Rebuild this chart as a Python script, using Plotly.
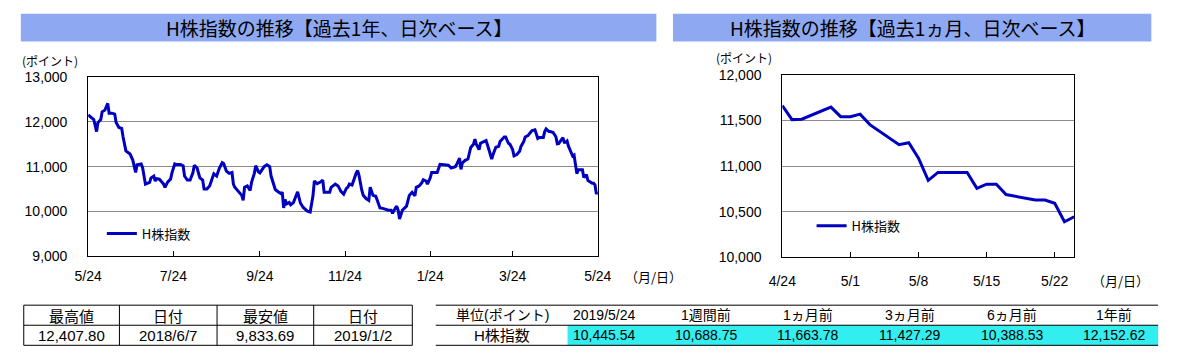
import plotly.graph_objects as go

# ---------------- data ----------------
year_dates = [
    "2018-05-24", "2018-05-27", "2018-05-28", "2018-05-30", "2018-05-31", "2018-06-02", "2018-06-03",
    "2018-06-05", "2018-06-07", "2018-06-08", "2018-06-10", "2018-06-12", "2018-06-13", "2018-06-15",
    "2018-06-17", "2018-06-18", "2018-06-19", "2018-06-20", "2018-06-23", "2018-06-25", "2018-06-26",
    "2018-06-27", "2018-06-28", "2018-07-01", "2018-07-02", "2018-07-03", "2018-07-04", "2018-07-07",
    "2018-07-08", "2018-07-10", "2018-07-11", "2018-07-12", "2018-07-14", "2018-07-17", "2018-07-18",
    "2018-07-20", "2018-07-22", "2018-07-23", "2018-07-25", "2018-07-26", "2018-07-29", "2018-07-31",
    "2018-08-01", "2018-08-03", "2018-08-05", "2018-08-07", "2018-08-08", "2018-08-10", "2018-08-12",
    "2018-08-14", "2018-08-15", "2018-08-17", "2018-08-19", "2018-08-21", "2018-08-22", "2018-08-24",
    "2018-08-26", "2018-08-28", "2018-08-29", "2018-08-31", "2018-09-02", "2018-09-04", "2018-09-05",
    "2018-09-06", "2018-09-09", "2018-09-11", "2018-09-12", "2018-09-13", "2018-09-15", "2018-09-16",
    "2018-09-17", "2018-09-18", "2018-09-20", "2018-09-21", "2018-09-23", "2018-09-24", "2018-09-26",
    "2018-09-27", "2018-09-29", "2018-10-01", "2018-10-02", "2018-10-04", "2018-10-05", "2018-10-07",
    "2018-10-09", "2018-10-10", "2018-10-11", "2018-10-12", "2018-10-13", "2018-10-15", "2018-10-16",
    "2018-10-18", "2018-10-19", "2018-10-21", "2018-10-23", "2018-10-25", "2018-10-28", "2018-10-30",
    "2018-11-01", "2018-11-02", "2018-11-04", "2018-11-06", "2018-11-08", "2018-11-09", "2018-11-11",
    "2018-11-13", "2018-11-14", "2018-11-15", "2018-11-17", "2018-11-19", "2018-11-20", "2018-11-21",
    "2018-11-23", "2018-11-25", "2018-11-26", "2018-11-27", "2018-11-29", "2018-11-30", "2018-12-02",
    "2018-12-03", "2018-12-04", "2018-12-06", "2018-12-07", "2018-12-09", "2018-12-11", "2018-12-12",
    "2018-12-14", "2018-12-16", "2018-12-17", "2018-12-19", "2018-12-21", "2018-12-23", "2018-12-25",
    "2018-12-27", "2018-12-28", "2018-12-30", "2018-12-31", "2019-01-01", "2019-01-02", "2019-01-04",
    "2019-01-06", "2019-01-07", "2019-01-09", "2019-01-11", "2019-01-13", "2019-01-14", "2019-01-16",
    "2019-01-18", "2019-01-19", "2019-01-21", "2019-01-22", "2019-01-24", "2019-01-25", "2019-01-28",
    "2019-01-29", "2019-01-31", "2019-02-03", "2019-02-06", "2019-02-08", "2019-02-11", "2019-02-12",
    "2019-02-14", "2019-02-15", "2019-02-16", "2019-02-18", "2019-02-20", "2019-02-22", "2019-02-24",
    "2019-02-25", "2019-02-26", "2019-02-28", "2019-03-01", "2019-03-03", "2019-03-05", "2019-03-07",
    "2019-03-09", "2019-03-10", "2019-03-12", "2019-03-14", "2019-03-15", "2019-03-18", "2019-03-19",
    "2019-03-21", "2019-03-22", "2019-03-24", "2019-03-25", "2019-03-27", "2019-03-29", "2019-03-30",
    "2019-04-01", "2019-04-02", "2019-04-04", "2019-04-06", "2019-04-07", "2019-04-09", "2019-04-11",
    "2019-04-12", "2019-04-15", "2019-04-16", "2019-04-17", "2019-04-19", "2019-04-20", "2019-04-22",
    "2019-04-24", "2019-04-25", "2019-04-26", "2019-04-29", "2019-04-30", "2019-05-01", "2019-05-02",
    "2019-05-03", "2019-05-06", "2019-05-07", "2019-05-08", "2019-05-09", "2019-05-10", "2019-05-13",
    "2019-05-14", "2019-05-15", "2019-05-16", "2019-05-17", "2019-05-20", "2019-05-21", "2019-05-22",
    "2019-05-23", "2019-05-24",
]
year_values = [
    12152.62, 12080, 12050, 11780, 11980, 12050, 12220,
    12260, 12407.80, 12190, 12190, 12170, 11980, 11870,
    11850, 11660, 11450, 11350, 11280, 11140, 11000,
    10870, 11040, 11060, 10970, 10750, 10610, 10650,
    10750, 10790, 10680, 10730, 10720, 10610, 10540,
    10660, 10720, 10860, 11060, 11050, 11050, 11020,
    10790, 10700, 10700, 10860, 11030, 10970, 10750,
    10700, 10500, 10500, 10570, 10750, 10840, 10790,
    10970, 11090, 11070, 10900, 10850, 10870, 10610,
    10540, 10430, 10360, 10250, 10540, 10570, 10500,
    10470, 10650, 10850, 11020, 10880, 10860, 10970,
    11000, 11040, 11000, 10790, 10570, 10490, 10440,
    10400, 10430, 10080, 10270, 10170, 10200, 10150,
    10200, 10280, 10440, 10190, 10090, 10010, 9990,
    10350, 10680, 10620, 10650, 10700, 10430, 10430,
    10430, 10540, 10570, 10610, 10570, 10500, 10450,
    10388.53, 10520, 10540, 10610, 10590, 10700, 10860,
    10910, 10800, 10470, 10360, 10290, 10250, 10540,
    10360, 10340, 10250, 10080, 10070, 10050, 10030,
    10030, 9960, 10080, 10120, 10030, 9833.69, 10030,
    10100, 10120, 10360, 10430, 10350, 10540, 10570,
    10640, 10710, 10680, 10610, 10750, 10870, 10870,
    10870, 11050, 11040, 11030, 10970, 11000, 11050,
    11190, 10940, 11080, 11140, 11170, 11427.29, 11500,
    11610, 11500, 11380, 11520, 11550, 11580, 11380,
    11170, 11270, 11430, 11450, 11560, 11660, 11660,
    11520, 11500, 11380, 11240, 11270, 11340, 11450,
    11560, 11660, 11690, 11770, 11800, 11820, 11630,
    11650, 11650, 11780, 11840, 11780, 11780, 11760,
    11663.78, 11510, 11514, 11647, 11542, 11542, 11570,
    11455, 11235, 11256, 11088, 10844, 10931, 10931,
    10757, 10802, 10802, 10688.75, 10628, 10628, 10593,
    10390, 10445.54,
]

month_dates = [
    "2019-04-24", "2019-04-25", "2019-04-26", "2019-04-29", "2019-04-30", "2019-05-01", "2019-05-02",
    "2019-05-03", "2019-05-06", "2019-05-07", "2019-05-08", "2019-05-09", "2019-05-10", "2019-05-13",
    "2019-05-14", "2019-05-15", "2019-05-16", "2019-05-17", "2019-05-20", "2019-05-21", "2019-05-22",
    "2019-05-23", "2019-05-24",
]
month_values = [
    11663.78, 11510, 11514, 11647, 11542, 11542, 11570,
    11455, 11235, 11256, 11088, 10844, 10931, 10931,
    10757, 10802, 10802, 10688.75, 10628, 10628, 10593,
    10390, 10445.54,
]

year_tick_dates = ["2018-05-24", "2018-07-24", "2018-09-24", "2018-11-24", "2019-01-24", "2019-03-24", "2019-05-24"]
year_tick_labels = ["5/24", "7/24", "9/24", "11/24", "1/24", "3/24", "5/24"]
month_tick_dates = ["2019-04-24", "2019-05-01", "2019-05-08", "2019-05-15", "2019-05-22"]
month_tick_labels = ["4/24", "5/1", "5/8", "5/15", "5/22"]

series_name = "H株指数"
left_title = "H株指数の推移【過去1年、日次ベース】"
right_title = "H株指数の推移【過去1ヵ月、日次ベース】"
unit_label = "(ポイント)"
date_unit_label = "（月/日）"

extreme_headers = ["最高値", "日付", "最安値", "日付"]
extreme_values = ["12,407.80", "2018/6/7", "9,833.69", "2019/1/2"]
change_headers = ["単位(ポイント)", "2019/5/24", "1週間前", "1ヵ月前", "3ヵ月前", "6ヵ月前", "1年前"]
change_values = ["H株指数", "10,445.54", "10,688.75", "11,663.78", "11,427.29", "10,388.53", "12,152.62"]

# ---------------- style / layout ----------------
W, H = 1178, 360
LINE_COLOR = "#0000C0"
BAR_COLOR = "#8EA9F2"
CYAN = "#33EEEE"
GRID = "#8C8C8C"
FONT = "Liberation Sans, Noto Sans CJK JP, sans-serif"
JFONT = "Noto Sans CJK JP, sans-serif"


def px(x):
    return x / W


def py(y):
    return 1 - y / H


fig = go.Figure()
fig.add_trace(go.Scatter(x=year_dates, y=year_values, mode="lines", name=series_name,
                         line=dict(color=LINE_COLOR, width=3), xaxis="x", yaxis="y",
                         legend="legend", legendgroup="year", showlegend=True))
fig.add_trace(go.Scatter(x=month_dates, y=month_values, mode="lines", name=series_name,
                         line=dict(color=LINE_COLOR, width=3), xaxis="x2", yaxis="y2",
                         legend="legend2", legendgroup="month", showlegend=True))

axis_common = dict(showline=True, mirror=True, linecolor="black", linewidth=1, zeroline=False)

fig.update_layout(
    width=W, height=H,
    showlegend=True,
    margin=dict(l=0, r=0, t=0, b=0),
    paper_bgcolor="white", plot_bgcolor="white",
    font=dict(family=FONT, size=14, color="black"),
    xaxis=dict(domain=[px(76), px(598)], type="date", range=["2018-05-24", "2019-05-24"],
               tickvals=year_tick_dates, ticktext=year_tick_labels, ticks="inside", ticklen=5,
               tickcolor="black", showgrid=False, ticklabelstandoff=7, anchor="y", **axis_common),
    yaxis=dict(domain=[py(260), py(72)], range=[9000, 13000], dtick=1000, tickformat=",",
               showgrid=True, gridcolor=GRID, gridwidth=1, ticks="", ticklabelstandoff=17,
               anchor="x", **axis_common),
    xaxis2=dict(domain=[px(787), px(1086)], type="date", range=["2019-04-24", "2019-05-24"],
                tickvals=month_tick_dates, ticktext=month_tick_labels, ticks="inside", ticklen=5,
                tickcolor="black", showgrid=False, ticklabelstandoff=11, anchor="y2", **axis_common),
    yaxis2=dict(domain=[py(261), py(70)], range=[10000, 12000], dtick=500, tickformat=",",
                showgrid=True, gridcolor=GRID, gridwidth=1, ticks="", ticklabelstandoff=17,
                anchor="x2", **axis_common),
    legend=dict(x=px(90), y=py(236), xanchor="left", yanchor="middle", bgcolor="rgba(0,0,0,0)",
                font=dict(family=JFONT, size=13), itemwidth=30),
    legend2=dict(x=px(817), y=py(228), xanchor="left", yanchor="middle", bgcolor="rgba(0,0,0,0)",
                 font=dict(family=JFONT, size=13), itemwidth=30),
)

shapes = []
annotations = []

# title bars
for (x0, x1, text) in [(7, 658, left_title), (675, 1165, right_title)]:
    shapes.append(dict(type="rect", xref="paper", yref="paper", x0=px(x0), x1=px(x1),
                       y0=py(35), y1=py(6), fillcolor=BAR_COLOR, line=dict(width=0), layer="below"))
    annotations.append(dict(x=px((x0 + x1) / 2), y=py(20.5), xref="paper", yref="paper", text=text,
                            showarrow=False, font=dict(family=JFONT, size=19, color="black"),
                            xanchor="center", yanchor="middle"))

# unit labels
for (x, y, text) in [(6, 55, unit_label), (717, 52, unit_label)]:
    annotations.append(dict(x=px(x), y=py(y), xref="paper", yref="paper", text=text, showarrow=False,
                            font=dict(family=JFONT, size=12), xanchor="left", yanchor="middle"))
for (x, y, text) in [(624, 281, date_unit_label), (1102, 285, date_unit_label)]:
    annotations.append(dict(x=px(x), y=py(y), xref="paper", yref="paper", text=text, showarrow=False,
                            font=dict(family=JFONT, size=13), xanchor="left", yanchor="middle"))

# left table (highs / lows)
lt_cols = [10, 108, 208, 307, 408]
lt_rows = [311, 332, 353]
shapes.append(dict(type="rect", xref="paper", yref="paper", x0=px(lt_cols[0]), x1=px(lt_cols[-1]),
                   y0=py(lt_rows[2]), y1=py(lt_rows[0]), line=dict(color="black", width=1)))
shapes.append(dict(type="line", xref="paper", yref="paper", x0=px(lt_cols[0]), x1=px(lt_cols[-1]),
                   y0=py(lt_rows[1]), y1=py(lt_rows[1]), line=dict(color="black", width=1)))
for c in lt_cols[1:-1]:
    shapes.append(dict(type="line", xref="paper", yref="paper", x0=px(c), x1=px(c),
                       y0=py(lt_rows[2]), y1=py(lt_rows[0]), line=dict(color="black", width=1)))
for i in range(4):
    cx = (lt_cols[i] + lt_cols[i + 1]) / 2
    annotations.append(dict(x=px(cx), y=py((lt_rows[0] + lt_rows[1]) / 2), xref="paper", yref="paper",
                            text=extreme_headers[i], showarrow=False, font=dict(family=JFONT, size=15),
                            xanchor="center", yanchor="middle"))
    annotations.append(dict(x=px(cx), y=py((lt_rows[1] + lt_rows[2]) / 2), xref="paper", yref="paper",
                            text=extreme_values[i], showarrow=False, font=dict(family=FONT, size=15),
                            xanchor="center", yanchor="middle"))

# right table (changes)
rt_x0, rt_x1, rt_fill_x0 = 432, 1172, 567
rt_rows = [311, 332, 353]
shapes.append(dict(type="rect", xref="paper", yref="paper", x0=px(rt_fill_x0), x1=px(rt_x1),
                   y0=py(rt_rows[2]), y1=py(rt_rows[1]), fillcolor=CYAN, line=dict(width=0)))
for r in rt_rows:
    shapes.append(dict(type="line", xref="paper", yref="paper", x0=px(rt_x0), x1=px(rt_x1),
                       y0=py(r), y1=py(r), line=dict(color="black", width=1)))
rt_centers = [500] + [604 + 104.5 * i for i in range(6)]
for i in range(7):
    annotations.append(dict(x=px(rt_centers[i]), y=py((rt_rows[0] + rt_rows[1]) / 2), xref="paper",
                            yref="paper", text=change_headers[i], showarrow=False,
                            font=dict(family=FONT, size=14), xanchor="center", yanchor="middle"))
    annotations.append(dict(x=px(rt_centers[i]), y=py((rt_rows[1] + rt_rows[2]) / 2), xref="paper",
                            yref="paper", text=change_values[i], showarrow=False,
                            font=dict(family=FONT, size=14 if i else 15), xanchor="center",
                            yanchor="middle"))

fig.update_layout(shapes=shapes, annotations=annotations)
fig.write_html("out.html", config={"displayModeBar": False},
               post_script="document.body.style.margin='0px';")
